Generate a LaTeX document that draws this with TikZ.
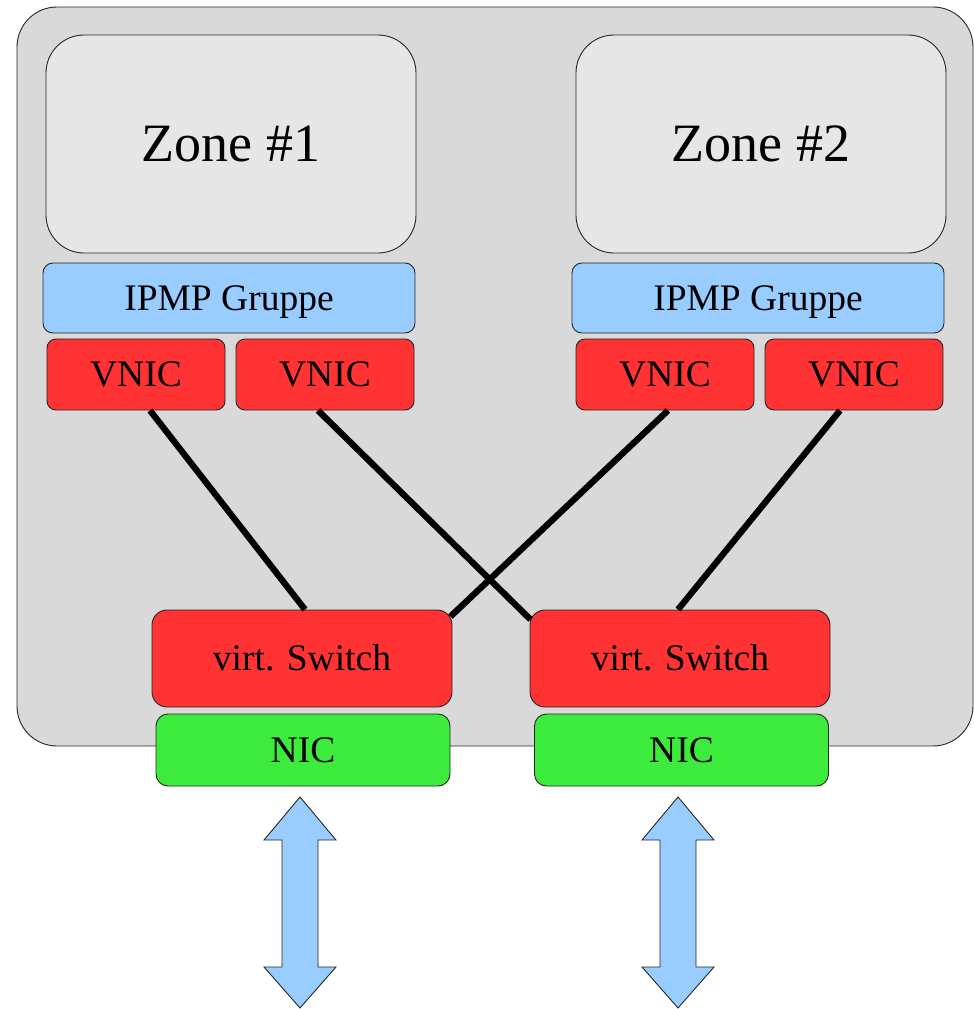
\documentclass[tikz,border=0pt]{standalone}
\usepackage{fontspec}
\setmainfont{Liberation Serif}
\definecolor{outerfill}{HTML}{D9D9D9}
\definecolor{zonefill}{HTML}{E6E6E6}
\definecolor{ipmpfill}{HTML}{99CCFF}
\definecolor{redfill}{HTML}{FF3333}
\definecolor{greenfill}{HTML}{3DEB3D}
\newcommand{\captxt}[1]{\raisebox{-0.33em}[0pt][0pt]{#1}}
\begin{document}
\begin{tikzpicture}[x=1pt,y=-1pt,
  box/.style={draw=black!85, line width=0.9pt, inner sep=0pt, font=\fontsize{37.5}{42}\selectfont},
  outerbox/.style={box, fill=outerfill, rounded corners=40pt},
  zonebox/.style={box, fill=zonefill, rounded corners=38pt, minimum width=370pt, minimum height=218pt, font=\fontsize{54}{60}\selectfont},
  ipmpbox/.style={box, fill=ipmpfill, rounded corners=10pt, minimum width=372pt, minimum height=70pt},
  vnicbox/.style={box, fill=redfill, rounded corners=9pt, minimum width=178pt, minimum height=71pt},
  switchbox/.style={box, fill=redfill, rounded corners=15pt, minimum width=300pt, minimum height=97pt},
  nicbox/.style={box, fill=greenfill, rounded corners=12pt, minimum width=294pt, minimum height=72pt},
  link/.style={line width=6.3pt, black},
  bigarrow/.style={draw=black!85, line width=0.9pt, fill=ipmpfill, line join=miter}
]
\useasboundingbox (0,0) rectangle (974,1009);
\node[outerbox, minimum width=956pt, minimum height=739pt] (host) at (495,376.5) {};
\node[zonebox] (zone1) at (231,144) {\captxt{Zone \#1}};
\node[zonebox] (zone2) at (761,144) {\captxt{Zone \#2}};
\node[ipmpbox] (ipmp1) at (229,298) {\captxt{IPMP Gruppe}};
\node[ipmpbox] (ipmp2) at (758,298) {\captxt{IPMP Gruppe}};
\node[vnicbox] (vnic1) at (136,374.5) {\captxt{VNIC}};
\node[vnicbox] (vnic2) at (325,374.5) {\captxt{VNIC}};
\node[vnicbox] (vnic3) at (665,374.5) {\captxt{VNIC}};
\node[vnicbox] (vnic4) at (854,374.5) {\captxt{VNIC}};
\node[switchbox] (sw1) at (302,658.5) {\captxt{virt. Switch}};
\node[switchbox] (sw2) at (680,658.5) {\captxt{virt. Switch}};
\node[nicbox] (nic1) at (303,750) {\captxt{NIC}};
\node[nicbox] (nic2) at (681.5,750) {\captxt{NIC}};
% connectors
\draw[link] ([shift={(14,0)}]vnic1.south) -- ([shift={(3,0)}]sw1.north);
\draw[link] ([shift={(-7,0)}]vnic2.south) -- ([shift={(1,10)}]sw2.north west);
\draw[link] ([shift={(3,0)}]vnic3.south) -- ([shift={(-2,7)}]sw1.north east);
\draw[link] ([shift={(-14,0)}]vnic4.south) -- ([shift={(-2,0)}]sw2.north);
% double arrows
\foreach \cx in {300,678} {
  \draw[bigarrow] (\cx,797) -- (\cx+36,840) -- (\cx+18,840) -- (\cx+18,967) -- (\cx+36,967)
    -- (\cx,1008) -- (\cx-36,967) -- (\cx-18,967) -- (\cx-18,840) -- (\cx-36,840) -- cycle;
}
\end{tikzpicture}
\end{document}
